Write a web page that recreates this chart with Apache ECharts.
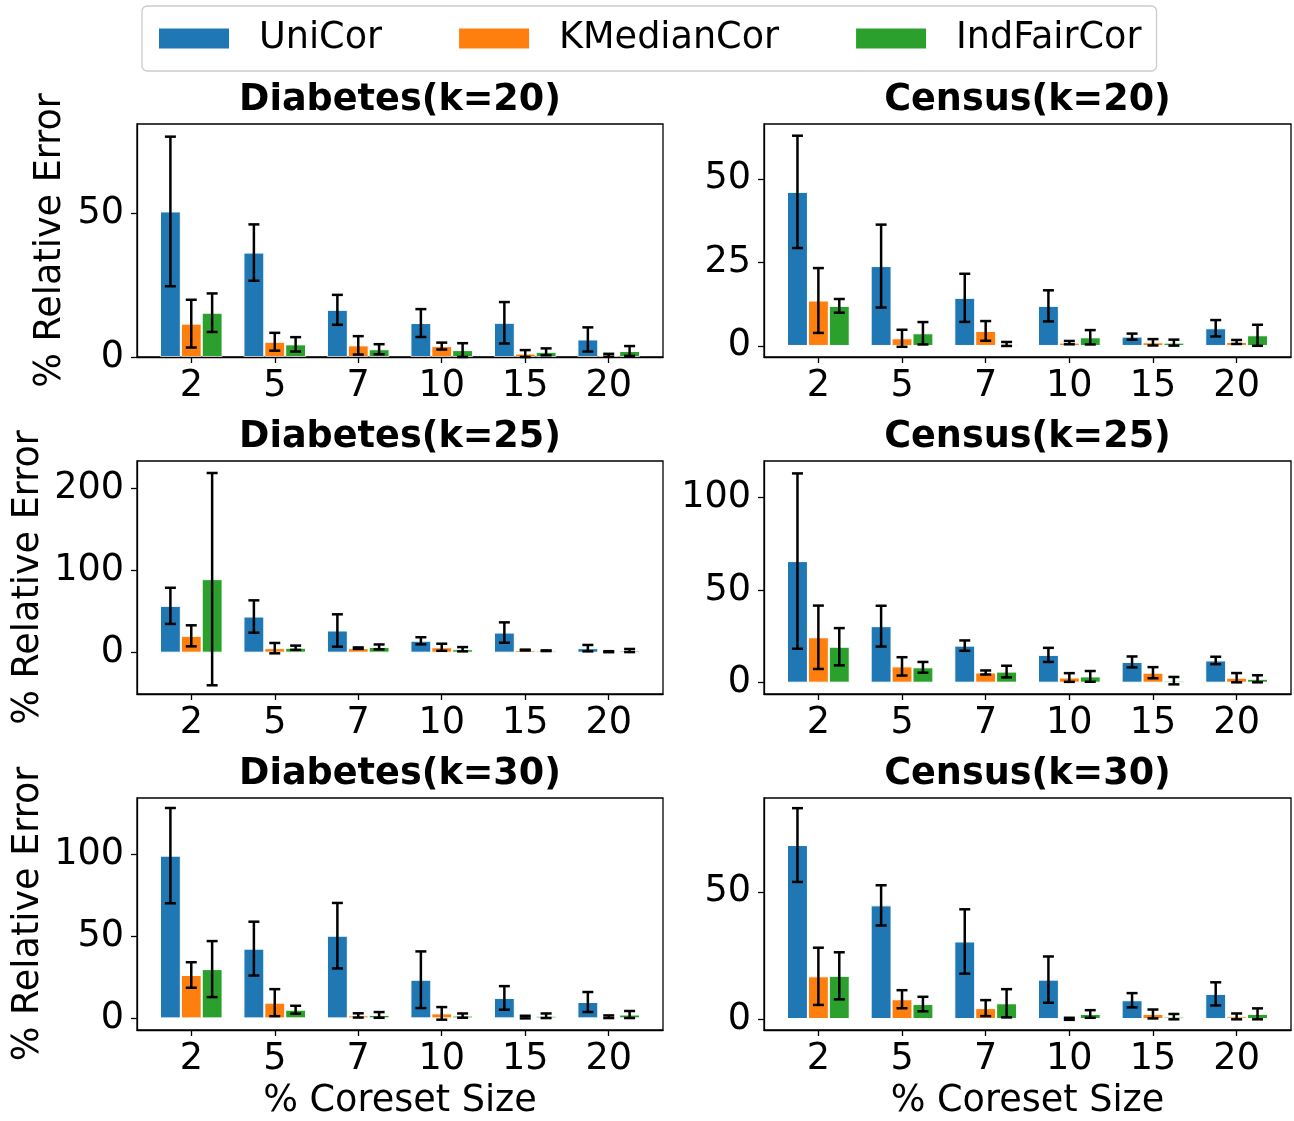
<!DOCTYPE html>
<html>
<head>
<meta charset="utf-8">
<script src="https://cdn.jsdelivr.net/npm/echarts@6/dist/echarts.min.js"></script>
<style>
html,body{margin:0;padding:0;background:#fff;}
#chart{width:1294px;height:1121px;}
</style>
</head>
<body>
<div id="chart"></div>
<script>
// ---------- DATA ----------
const coresetSizes = ['2', '5', '7', '10', '15', '20'];
const seriesNames = ['UniCor', 'KMedianCor', 'IndFairCor'];
const panelTitles = ['Diabetes(k=20)', 'Census(k=20)', 'Diabetes(k=25)', 'Census(k=25)', 'Diabetes(k=30)', 'Census(k=30)'];

const diabetes20_uni = [50.6, 36.3, 16.4, 11.8, 11.9, 6.1];
const diabetes20_uni_err = [26.0, 9.8, 5.2, 4.85, 7.2, 4.2];
const diabetes20_kmed = [11.6, 5.3, 4.05, 3.8, 1.2, 0.6];
const diabetes20_kmed_err = [8.3, 3.1, 3.2, 1.2, 1.2, 0.5];
const diabetes20_ind = [15.4, 4.4, 2.7, 2.4, 1.8, 2.1];
const diabetes20_ind_err = [6.7, 2.5, 1.75, 2.4, 1.2, 1.7];

const census20_uni = [46.1, 23.9, 14.4, 12.0, 2.8, 5.3];
const census20_uni_err = [16.8, 12.4, 7.2, 4.65, 0.9, 2.45];
const census20_kmed = [13.6, 2.3, 4.5, 1.0, 1.1, 1.2];
const census20_kmed_err = [9.7, 2.55, 2.95, 0.5, 0.95, 0.6];
const census20_ind = [12.0, 3.8, 0.6, 2.6, 1.0, 3.2];
const census20_ind_err = [2.05, 3.35, 0.6, 2.15, 0.9, 3.15];

const diabetes25_uni = [57.0, 44.0, 27.0, 14.5, 24.5, 5.5];
const diabetes25_uni_err = [22.0, 19.7, 19.7, 4.3, 12.4, 3.9];
const diabetes25_kmed = [20.5, 5.5, 5.5, 6.6, 3.2, 1.2];
const diabetes25_kmed_err = [12.8, 6.3, 0.9, 4.3, 0.5, 0.6];
const diabetes25_ind = [89.5, 6.0, 7.0, 4.2, 2.4, 2.6];
const diabetes25_ind_err = [129.2, 2.6, 3.0, 2.6, 0.4, 1.9];

const census25_uni = [65.6, 30.5, 20.0, 15.0, 11.2, 12.0];
const census25_uni_err = [47.3, 11.0, 2.8, 3.8, 2.95, 2.0];
const census25_kmed = [24.5, 8.8, 5.5, 2.8, 5.4, 2.7];
const census25_kmed_err = [17.1, 4.95, 1.1, 2.35, 3.0, 2.5];
const census25_ind = [19.4, 8.3, 6.0, 3.4, 1.1, 2.1];
const census25_ind_err = [10.05, 2.9, 3.15, 2.9, 2.0, 1.9];

const diabetes30_uni = [99.4, 42.6, 50.5, 23.6, 12.5, 10.0];
const diabetes30_uni_err = [29.1, 16.45, 20.0, 17.3, 7.2, 6.1];
const diabetes30_kmed = [26.5, 9.6, 1.8, 3.05, 0.8, 1.0];
const diabetes30_kmed_err = [7.8, 8.25, 1.3, 3.85, 0.8, 0.8];
const diabetes30_ind = [30.1, 5.3, 2.1, 1.7, 1.6, 2.35];
const diabetes30_ind_err = [17.1, 2.4, 1.75, 1.3, 1.4, 2.15];

const census30_uni = [68.4, 44.7, 30.5, 15.5, 7.4, 9.9];
const census30_uni_err = [14.5, 7.9, 12.65, 9.1, 2.8, 4.55];
const census30_kmed = [16.8, 7.8, 4.3, 0.1, 2.0, 1.05];
const census30_kmed_err = [11.25, 3.55, 3.15, 0.4, 1.75, 1.15];
const census30_ind = [17.0, 5.9, 6.2, 2.0, 0.95, 2.05];
const census30_ind_err = [9.25, 2.85, 5.55, 1.5, 1.05, 2.15];

// y-axis tick labels and limits per panel
const yTicks = [[0, 50], [0, 25, 50], [0, 100, 200], [0, 50, 100], [0, 50, 100], [0, 50]];
const yMins = [0, -3.3, -50.3, -6.1, -7.1, -4.3];
const yMaxs = [81, 66.4, 233.3, 119.6, 134.6, 86.9];

// ---------- BUILD ----------
const panelValues = [
  [diabetes20_uni, diabetes20_kmed, diabetes20_ind],
  [census20_uni, census20_kmed, census20_ind],
  [diabetes25_uni, diabetes25_kmed, diabetes25_ind],
  [census25_uni, census25_kmed, census25_ind],
  [diabetes30_uni, diabetes30_kmed, diabetes30_ind],
  [census30_uni, census30_kmed, census30_ind]
];
const panelErrors = [
  [diabetes20_uni_err, diabetes20_kmed_err, diabetes20_ind_err],
  [census20_uni_err, census20_kmed_err, census20_ind_err],
  [diabetes25_uni_err, diabetes25_kmed_err, diabetes25_ind_err],
  [census25_uni_err, census25_kmed_err, census25_ind_err],
  [diabetes30_uni_err, diabetes30_kmed_err, diabetes30_ind_err],
  [census30_uni_err, census30_kmed_err, census30_ind_err]
];

const colors = ['#1f77b4', '#ff7f0e', '#2ca02c'];
const FONT = 'DejaVu Sans';
const FS = 36.6;
const colLeft = [137, 764];
const colWidth = [526, 527];
const rowTop = [124, 461, 798];
const rowHeight = 233;
const xMin = -0.65, xMax = 5.65;

const grids = [], xAxes = [], yAxes = [], series = [], titles = [];

for (let p = 0; p < 6; p++) {
  const r = Math.floor(p / 2), c = p % 2;
  const gw = colWidth[c];
  const unitPx = gw / (xMax - xMin);
  const barW = unitPx * 0.25;
  grids.push({
    left: colLeft[c], top: rowTop[r], width: gw, height: rowHeight,
    show: true, borderColor: '#000', borderWidth: 1.3, backgroundColor: 'transparent',
    containLabel: false
  });
  titles.push({
    text: panelTitles[p],
    left: colLeft[c] + gw / 2, top: rowTop[r] - 43, textAlign: 'center',
    padding: 0,
    textStyle: { fontFamily: FONT, fontSize: FS, fontWeight: 'bold', color: '#000', lineHeight: 38 }
  });
  xAxes.push({
    gridIndex: p, type: 'value', min: xMin, max: xMax,
    name: r === 2 ? '% Coreset Size' : '', nameLocation: 'middle', nameGap: 53,
    nameTextStyle: { fontFamily: FONT, fontSize: FS, color: '#000' },
    axisLine: { show: true, onZero: false, lineStyle: { color: '#000', width: 1.3 } },
    axisTick: { show: true, length: 6, lineStyle: { color: '#000', width: 1.3 }, customValues: [0, 1, 2, 3, 4, 5] },
    axisLabel: {
      show: true, margin: 11, fontFamily: FONT, fontSize: FS, color: '#000',
      customValues: [0, 1, 2, 3, 4, 5],
      formatter: function (v) { return coresetSizes[Math.round(v)]; }
    },
    splitLine: { show: false },
    z: 5
  });
  yAxes.push({
    gridIndex: p, type: 'value', min: yMins[p], max: yMaxs[p],
    name: c === 0 ? '% Relative Error' : '', nameLocation: 'middle',
    nameGap: r === 0 ? 68 : 90,
    nameTextStyle: { fontFamily: FONT, fontSize: FS, color: '#000' },
    axisLine: { show: true, onZero: false, lineStyle: { color: '#000', width: 1.3 } },
    axisTick: { show: true, length: 6, lineStyle: { color: '#000', width: 1.3 }, customValues: yTicks[p] },
    axisLabel: { show: true, margin: 13, fontFamily: FONT, fontSize: FS, color: '#000', customValues: yTicks[p] },
    splitLine: { show: false },
    z: 5
  });
  for (let s = 0; s < 3; s++) {
    const vals = panelValues[p][s];
    series.push({
      type: 'bar', name: seriesNames[s], xAxisIndex: p, yAxisIndex: p,
      barWidth: barW, barGap: '0%',
      itemStyle: { color: colors[s], borderColor: '#fff', borderWidth: 1 },
      data: vals.map((v, i) => [i, v]),
      z: 2, animation: false
    });
  }
  for (let s = 0; s < 3; s++) {
    const vals = panelValues[p][s], errs = panelErrors[p][s];
    const offPx = (s - 1) * barW;
    series.push({
      type: 'custom', name: 'err' + p + '_' + s, xAxisIndex: p, yAxisIndex: p,
      data: vals.map((v, i) => [i, v, errs[i]]),
      encode: { x: 0, y: 1 },
      z: 4, animation: false, silent: true,
      renderItem: function (params, api) {
        const x = api.value(0), v = api.value(1), e = api.value(2);
        const top = api.coord([x, v + e]);
        const bot = api.coord([x, v - e]);
        const cx = top[0] + offPx;
        const hw = 5.5;
        const st = { stroke: '#000', lineWidth: 2.5 };
        return {
          type: 'group', children: [
            { type: 'line', shape: { x1: cx, y1: top[1], x2: cx, y2: bot[1] }, style: st },
            { type: 'line', shape: { x1: cx - hw, y1: top[1], x2: cx + hw, y2: top[1] }, style: st },
            { type: 'line', shape: { x1: cx - hw, y1: bot[1], x2: cx + hw, y2: bot[1] }, style: st }
          ]
        };
      }
    });
  }
}

const chart = echarts.init(document.getElementById('chart'), null, { renderer: 'canvas' });
chart.setOption({
  animation: false,
  backgroundColor: '#fff',
  color: colors,
  title: titles,
  legend: {
    data: seriesNames.map(n => ({ name: n, icon: 'rect' })),
    left: 142, top: 6,
    orient: 'horizontal',
    itemWidth: 72, itemHeight: 22, itemGap: 75,
    padding: [14, 15, 14, 15],
    borderColor: '#cccccc', borderWidth: 1.3, borderRadius: 5,
    textStyle: { fontFamily: FONT, fontSize: FS, color: '#000', padding: [0, 0, 0, 24] }
  },
  grid: grids,
  xAxis: xAxes,
  yAxis: yAxes,
  series: series
});
</script>
</body>
</html>
